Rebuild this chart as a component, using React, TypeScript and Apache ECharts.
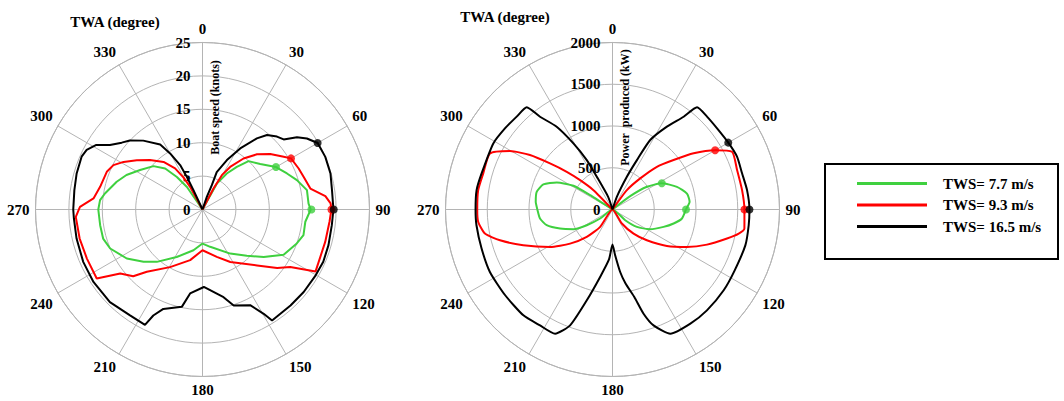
import React, { useEffect, useRef } from "react";
import * as echarts from "echarts";

// ---------- data: [value, angle(deg)] ----------
const seriesNames = ["TWS= 7.7 m/s", "TWS= 9.3 m/s", "TWS= 16.5 m/s"];
const seriesColors = ["#3fd03f", "#ff0000", "#000000"];

// Boat speed (knots)
const speedGreen: number[][] = [
  [0, 25], [4.45, 28.9], [6.5, 34], [8.2, 38.8], [10.0, 43.6], [11.0, 51.8], [12.7, 60], [13.75, 66.9],
  [14.8, 72.7], [15.9, 79.5], [15.9, 86.8], [16.2, 90], [15.5, 96.8], [15.6, 104.3], [15.0, 109.8],
  [13.9, 119.1], [11.6, 127.8], [9.6, 136.3], [7.8, 147.8], [5.7, 168.4], [5.1, 180], [6.25, 192.5],
  [8.1, 208.5], [10.4, 221.1], [11.8, 228.4], [13.5, 237.1], [15.0, 247.1], [15.5, 253.7], [15.5, 261.3],
  [15.6, 270], [15.4, 275.2], [14.8, 279.3], [13.5, 287.9], [12.5, 294.4], [11.05, 302.3], [9.8, 311.5],
  [8.3, 317.7], [6.2, 321.8], [4.1, 325.4], [0, 330],
];
const speedRed: number[][] = [
  [0, 25], [3.55, 27.6], [5.9, 29.4], [7.6, 33], [9.8, 38.8], [11.6, 44.6], [13.1, 50.7], [14.5, 57],
  [15.3, 60], [15.65, 66.9], [15.9, 72.1], [16.45, 79], [18.5, 83.8], [19.2, 87.3], [19.3, 90],
  [19.1, 95.5], [19.0, 104.8], [19.3, 118.7], [15.7, 123.2], [14.2, 128.1], [11.7, 135.7], [8.9, 152.1],
  [7.4, 163.2], [6.1, 180], [7.8, 193.7], [9.9, 209.4], [12.5, 221.8], [14.4, 226.1], [15.6, 232.1],
  [18.9, 236.9], [18.8, 247], [18.9, 256.7], [19.0, 266.7], [18.35, 271.2], [16.4, 275.8], [15.7, 282.5],
  [15.4, 291.5], [14.9, 296.5], [13.8, 301.1], [12.3, 306.9], [10.8, 313.3], [9.2, 320.7], [7.4, 326.3],
  [5.6, 329.3], [3.9, 331.4], [0, 335],
];
const speedBlack: number[][] = [
  [0, 19], [2.0, 18.9], [3.9, 21], [6.0, 20.8], [8.25, 26.3], [10.75, 31.7], [13.4, 37.4], [14.75, 40.9],
  [15.6, 45.6], [16.05, 49.2], [17.8, 52.6], [18.9, 55.8], [19.9, 60], [20.0, 66.8], [19.9, 74.3],
  [19.6, 81.5], [19.6, 90], [19.5, 96.9], [19.6, 105.8], [19.7, 113.4], [19.6, 120.2], [19.55, 129.2],
  [19.5, 137.5], [19.6, 147.9], [18.1, 149.6], [16.0, 153.5], [15.1, 162], [13.5, 166.5], [11.6, 179],
  [12.7, 188.4], [14.9, 192], [16.0, 201.5], [17.5, 204.9], [19.3, 206.5], [19.2, 214.4], [19.6, 225],
  [19.6, 236.4], [19.5, 246.3], [19.35, 257], [19.3, 266], [19.35, 270], [19.4, 278.6], [19.6, 286],
  [19.75, 293.6], [19.5, 297.2], [18.6, 301.3], [16.9, 304.9], [15.7, 309.6], [15.0, 313.5], [13.6, 319.3],
  [11.6, 326.9], [9.7, 330], [7.45, 333.3], [5.4, 334.4], [3.2, 335], [0, 338],
];
const speedDots: number[][][] = [
  [[12.7, 60], [16.3, 90]],
  [[15.3, 60], [19.3, 90]],
  [[19.9, 60], [19.65, 90]],
];

// Power produced (kW)
const powerGreen: number[][] = [
  [0, 45], [265, 53], [494, 56.6], [669, 62], [818, 70.6], [912, 77.9], [928, 84.3], [880, 90],
  [839, 97.4], [751, 102.9], [646, 108.8], [510, 117.6], [358, 125.5], [199, 130.1], [0, 180],
  [183, 233.9], [361, 238.6], [524, 243.2], [668, 250], [810, 256.6], [875, 262.9], [900, 270],
  [924, 275.7], [932, 283.1], [881, 289.9], [742, 295.9], [547, 301.3], [318, 302.7], [0, 310],
];
const powerRed: number[][] = [
  [0, 30], [289, 36.6], [499, 41.7], [738, 46.1], [941, 51], [1182, 55.3], [1419, 60], [1590, 64.2],
  [1565, 72.4], [1569, 81.5], [1580, 90], [1596, 98.2], [1539, 100.8], [1415, 104.2], [1207, 110.4],
  [998, 116.7], [784, 123.8], [552, 131.8], [383, 138.8], [202, 146.3], [0, 180], [255, 215.4],
  [450, 223.2], [652, 231.2], [872, 239.1], [1151, 248.2], [1397, 254.7], [1555, 259.3], [1615, 264.7],
  [1620, 270], [1625, 278.2], [1607, 285.6], [1614, 294.6], [1413, 299.7], [1184, 303.4], [930, 306.4],
  [710, 309.5], [524, 312.2], [325, 315.5], [0, 325],
];
const powerBlack: number[][] = [
  [0, 18], [160, 18.9], [428, 23.7], [660, 26.3], [947, 28.5], [1187, 33.3], [1400, 37.5], [1588, 39.6],
  [1587, 45.5], [1585, 52.2], [1601, 60], [1620, 67], [1611, 74.4], [1628, 81.8], [1640, 90],
  [1642, 96.6], [1648, 105], [1635, 116.6], [1646, 126], [1655, 136.9], [1655, 145.7], [1641, 155],
  [1472, 160.5], [1302, 163.4], [1080, 166], [900, 170], [754, 173], [549, 176.7], [420, 180],
  [600, 184], [821, 190.4], [1130, 195.8], [1478, 200.1], [1639, 204.8], [1637, 212], [1657, 220.1],
  [1645, 231.5], [1648, 243], [1636, 253.4], [1640, 263.4], [1640, 270], [1644, 278.1], [1626, 285.4],
  [1632, 299], [1613, 307], [1598, 314.1], [1598, 320], [1410, 322], [1196, 326], [920, 329.4],
  [667, 332.5], [435, 334.4], [160, 341], [0, 342],
];
const powerDots: number[][][] = [
  [[669, 62], [880, 90]],
  [[1419, 60], [1580, 90]],
  [[1601, 60], [1640, 90]],
];

const speedTicks = { min: 0, max: 25, interval: 5 };
const powerTicks = { min: 0, max: 2000, interval: 500 };

const FONT = "'Liberation Serif', 'Times New Roman', serif";
const GRID = "#b4b4b4";

export default function App() {
  const ref = useRef<HTMLDivElement>(null);
  useEffect(() => {
    if (!ref.current) return;
    const chart = echarts.init(ref.current, undefined, { renderer: "svg" });

    const angleAxis = (i: number) => ({
      polarIndex: i,
      type: "value",
      min: 0,
      max: 360,
      interval: 30,
      startAngle: 90,
      clockwise: true,
      axisLine: { show: true, lineStyle: { color: GRID, width: 1 } },
      axisTick: { show: false },
      axisLabel: {
        color: "#000",
        fontFamily: FONT,
        fontWeight: "bold",
        fontSize: 15,
        margin: 6,
        formatter: (v: number) => (v === 360 ? "" : String(v)),
      },
      splitLine: { show: true, lineStyle: { color: GRID, width: 1 } },
    });
    const radiusAxis = (i: number, t: { min: number; max: number; interval: number }) => ({
      polarIndex: i,
      type: "value",
      min: t.min,
      max: t.max,
      interval: t.interval,
      axisLine: { show: true, lineStyle: { color: GRID } },
      axisTick: { show: false },
      axisLabel: {
        color: "#000",
        fontFamily: FONT,
        fontWeight: "bold",
        fontSize: 15,
        margin: 12,
        formatter: (v: number) => String(v),
      },
      splitLine: { show: true, lineStyle: { color: GRID, width: 1 } },
    });

    const lines = (i: number, datas: number[][][], smooth: boolean | number) =>
      datas.map((d, k) => ({
        type: "line",
        name: seriesNames[k],
        coordinateSystem: "polar",
        polarIndex: i,
        data: d,
        symbol: "none",
        smooth,
        color: seriesColors[k],
        lineStyle: { color: seriesColors[k], width: 2 },
        z: 3 + k,
      }));
    const dots = (i: number, datas: number[][][]) =>
      datas.map((d, k) => ({
        type: "scatter",
        name: "pt" + i + k,
        coordinateSystem: "polar",
        polarIndex: i,
        data: d,
        symbolSize: 8,
        itemStyle: { color: seriesColors[k] },
        z: 10,
      }));

    chart.setOption({
      animation: false,
      backgroundColor: "#fff",
      polar: [
        { center: [202.5, 209.5], radius: 167 },
        { center: [612.5, 209.5], radius: 167 },
      ],
      angleAxis: [angleAxis(0), angleAxis(1)],
      radiusAxis: [radiusAxis(0, speedTicks), radiusAxis(1, powerTicks)],
      legend: {
        data: seriesNames,
        orient: "vertical",
        left: 857,
        top: 176,
        itemWidth: 70,
        itemHeight: 3,
        itemGap: 6.5,
        icon: "rect",
        padding: 0,
        textStyle: {
          color: "#000",
          fontFamily: FONT,
          fontWeight: "bold",
          fontSize: 15,
          padding: [0, 0, 0, 11],
        },
      },
      graphic: [
        {
          type: "rect",
          shape: { x: 825, y: 164, width: 233, height: 95 },
          style: { fill: "none", stroke: "#000", lineWidth: 2 },
        },
        {
          type: "text",
          x: 115,
          y: 22,
          style: { text: "TWA (degree)", font: `bold 15px ${FONT}`, fill: "#000", align: "center", verticalAlign: "middle" },
        },
        {
          type: "text",
          x: 505,
          y: 17,
          style: { text: "TWA (degree)", font: `bold 15px ${FONT}`, fill: "#000", align: "center", verticalAlign: "middle" },
        },
        {
          type: "text",
          x: 214.5,
          y: 107.5,
          rotation: Math.PI / 2,
          z: 20,
          style: { text: "Boat speed (knots)", font: `bold 12px ${FONT}`, fill: "#000", align: "center", verticalAlign: "middle" },
        },
        {
          type: "text",
          x: 624.5,
          y: 107.5,
          rotation: Math.PI / 2,
          z: 20,
          style: { text: "Power  produced (kW)", font: `bold 12px ${FONT}`, fill: "#000", align: "center", verticalAlign: "middle" },
        },
      ],
      series: [
        ...lines(0, [speedGreen, speedRed, speedBlack], false),
        ...lines(1, [powerGreen, powerRed, powerBlack], 0.2),
        ...dots(0, speedDots),
        ...dots(1, powerDots),
      ],
    });
    return () => chart.dispose();
  }, []);
  return (
    <div
      ref={ref}
      style={{ position: "absolute", left: 0, top: 0, width: 1064, height: 401 }}
    />
  );
}
